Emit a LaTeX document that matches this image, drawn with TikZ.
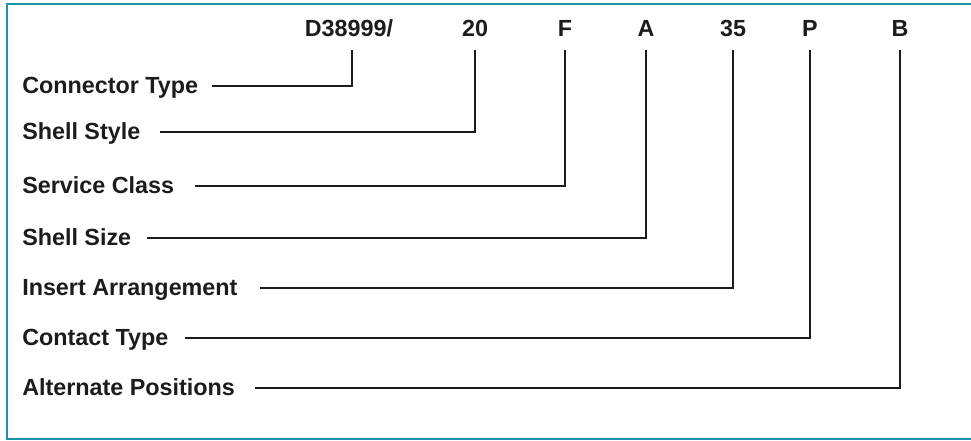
\documentclass[tikz,border=0pt]{standalone}
\usepackage{fontspec}
\setmainfont{Liberation Sans}
\usetikzlibrary{calc}
\definecolor{frame}{HTML}{1A93A8}
\definecolor{ink}{HTML}{1E1B1C}
\begin{document}
\begin{tikzpicture}[x=0.75pt,y=-0.75pt,
  lbl/.style={font=\bfseries\fontsize{17.5}{20}\selectfont,text=ink,inner sep=0pt,anchor=base west},
  code/.style={font=\bfseries\fontsize{17.5}{20}\selectfont,text=ink,inner sep=0pt,anchor=base},
  lead/.style={draw=ink,line width=1.9pt,miter limit=10}]
\useasboundingbox (0,0) rectangle (971,441);
\begin{scope}
\clip (0,0) rectangle (971,441);
\draw[frame,line width=1.8pt] (7,4) rectangle (985,439);
\end{scope}
% top codes
\node[code] (t1) at (349,37) {D38999/};
\node[code] (t2) at (475,37) {20};
\node[code] (t3) at (565,37) {F};
\node[code] (t4) at (646,37) {A};
\node[code] (t5) at (733,37) {35};
\node[code] (t6) at (810,37) {P};
\node[code] (t7) at (900,37) {B};
% labels
\node[lbl] (l1) at (22,94) {Connector Type};
\node[lbl] (l2) at (22,140) {Shell Style};
\node[lbl] (l3) at (22,194) {Service Class};
\node[lbl] (l4) at (22,246) {Shell Size};
\node[lbl] (l5) at (22,296) {Insert Arrangement};
\node[lbl] (l6) at (22,346) {Contact Type};
\node[lbl] (l7) at (22,396) {Alternate Positions};
% line starts
\coordinate (s1) at (212,86);
\coordinate (s2) at (160,132);
\coordinate (s3) at (195,186);
\coordinate (s4) at (147,238);
\coordinate (s5) at (260,288);
\coordinate (s6) at (185,338);
\coordinate (s7) at (255,388);
% top ends
\coordinate (e1) at (352,50);
\coordinate (e2) at ($(t2.base)+(0,13)$);
\coordinate (e3) at ($(t3.base)+(0,13)$);
\coordinate (e4) at ($(t4.base)+(0,13)$);
\coordinate (e5) at ($(t5.base)+(0,13)$);
\coordinate (e6) at ($(t6.base)+(0,13)$);
\coordinate (e7) at ($(t7.base)+(0,13)$);
\foreach \i in {1,...,7}{\draw[lead] (s\i) -| (e\i);}
\end{tikzpicture}
\end{document}
